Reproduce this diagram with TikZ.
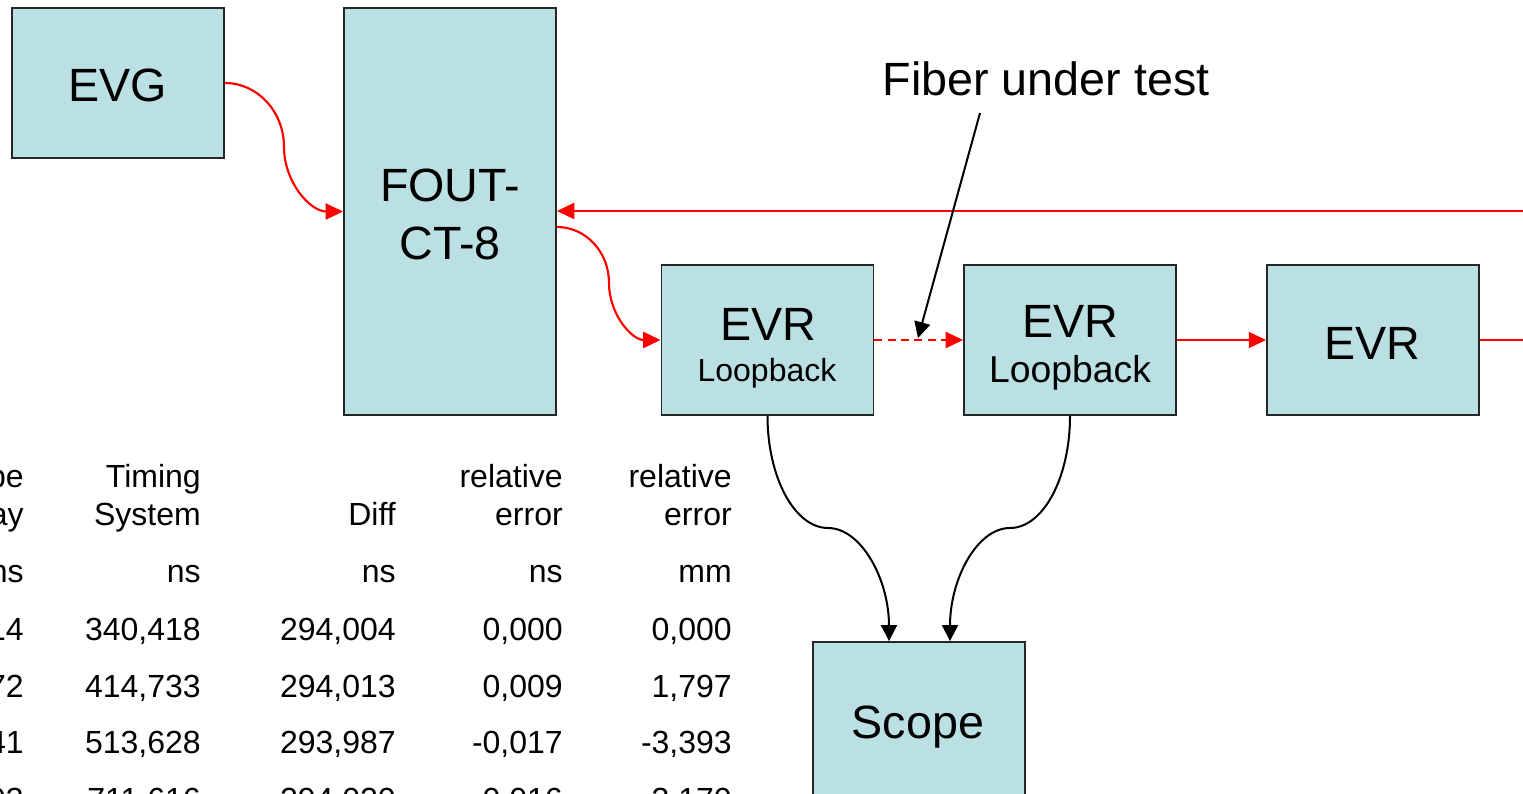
\documentclass[tikz,border=0pt]{standalone}
\usepackage{fontspec}
\setmainfont{Liberation Sans}
\usetikzlibrary{arrows.meta,calc}
\definecolor{boxfill}{RGB}{187,224,227}
\definecolor{sigred}{RGB}{255,0,0}
\newcommand\tabrow[7]{%
  \node[tbl] (#1a) at (24,#2) {#3};
  \node[tbl] (#1b) at (201,#2) {#4};
  \node[tbl] (#1c) at (396,#2) {#5};
  \node[tbl] (#1d) at (563,#2) {#6};
  \node[tbl] (#1e) at (732,#2) {#7};
}
\begin{document}
\begin{tikzpicture}[x=0.75pt,y=-0.75pt,
  box/.style={draw=black!85, line width=1.4pt, fill=boxfill, minimum width=159pt, minimum height=112.5pt, inner sep=0pt},
  big/.style={font=\fontsize{35}{42}\selectfont, inner sep=0pt, anchor=base},
  tbl/.style={font=\fontsize{24}{28}\selectfont, inner sep=0pt, anchor=base east},
  sig/.style={draw=sigred, line width=1.6pt, -{Triangle[length=13pt,width=12pt]}},
  blk/.style={draw=black, line width=1.5pt, -{Triangle[length=12pt,width=12pt]}}]
\useasboundingbox (0,0) rectangle (1523,793);
\clip (0,0) rectangle (1523,793);
\fill[white] (0,0) rectangle (1523,793);

% boxes
\node[box] (evg) at (118,83) {};
\node[box, minimum height=305.25pt] (fout) at (450,211.5) {};
\node[box] (evr1) at (767.5,340) {};
\node[box] (evr2) at (1070,340) {};
\node[box] (evr3) at (1373,340) {};
\node[box, minimum height=126pt] (scope) at (919,726) {};

% texts
\node[big] (evgt) at (118,101) {EVG};
\node[big] (fout1) at (450,201) {FOUT-};
\node[big] (fout2) at (450,259) {CT-8};
\node[big] (evr1t) at (768,340) {EVR};
\node[big, font=\fontsize{24}{28}\selectfont] (evr1l) at (767,381) {Loopback};
\node[big] (evr2t) at (1070,337) {EVR};
\node[big, font=\fontsize{28}{32}\selectfont] (evr2l) at (1070,382) {Loopback};
\node[big] (evr3t) at (1372,359) {EVR};
\node[big] (scopet) at (918,738) {Scope};
\node[big] (fib) at (1046,95) {Fiber under test};

% red signal connectors
\coordinate (m1) at (284,147);
\draw[sig] (evg.east) .. controls +(33,0) and +(0,-35) .. (m1)
  .. controls +(0,35) and +(-33,0) .. (fout.west);
\coordinate (f2) at ($(fout.east)+(0,15.5)$);
\coordinate (m2) at (609,283);
\draw[sig] (f2) .. controls +(29,0) and +(0,-31) .. (m2)
  .. controls +(0,31) and +(-29,0) .. (evr1.west);
\draw[sig, dash pattern=on 6pt off 4pt] (evr1.east) -- (evr2.west);
\draw[sig] (evr2.east) -- (evr3.west);
\coordinate (back) at ($(fout.east)+(0,-0.5)$);
\coordinate (turn) at (1600,340);
\draw[sig] (evr3.east) -- (turn) |- (back);

% fiber label arrow
\coordinate (fa) at (980,113);
\coordinate (fb) at (918,338);
\draw[blk] (fa) -- (fb);

% scope connectors
\coordinate (s1) at (828,528);
\draw[blk] (evr1.south) .. controls +(0,62) and +(-33,0) .. (s1)
  .. controls +(33,0) and +(0,-62) .. ($(scope.north)+(-30,0)$);
\coordinate (s2) at (1010,528);
\draw[blk] (evr2.south) .. controls +(0,62) and +(33,0) .. (s2)
  .. controls +(-33,0) and +(0,-62) .. ($(scope.north)+(31,0)$);

% table
\tabrow{ha}{487}{Scope}{Timing}{}{relative}{relative}
\tabrow{hb}{525}{delay}{System}{Diff}{error}{error}
\tabrow{u}{582}{ns}{ns}{ns}{ns}{mm}
\tabrow{ra}{640}{14}{340,418}{294,004}{0,000}{0,000}
\tabrow{rb}{697}{72}{414,733}{294,013}{0,009}{1,797}
\tabrow{rc}{753}{41}{513,628}{293,987}{-0,017}{-3,393}
\tabrow{rd}{810}{93}{711,616}{294,020}{0,016}{3,170}
\end{tikzpicture}
\end{document}
